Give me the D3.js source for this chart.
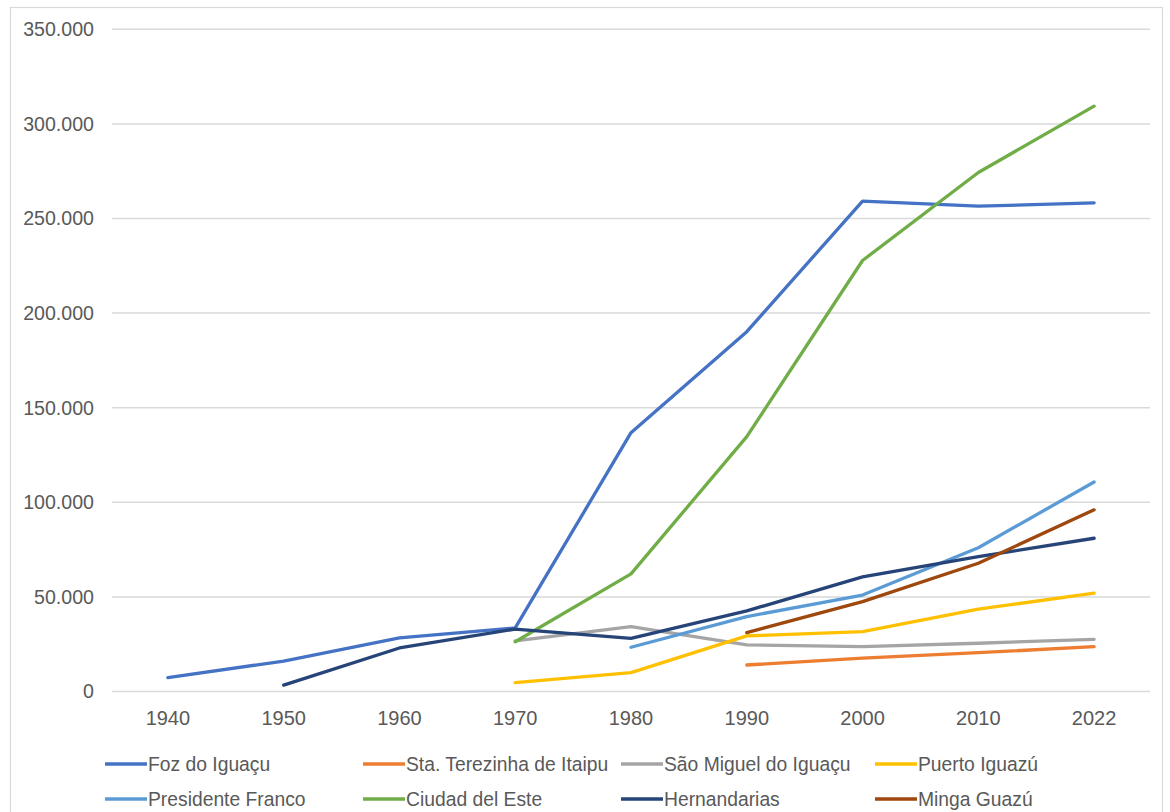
<!DOCTYPE html>
<html>
<head>
<meta charset="utf-8">
<script src="https://cdn.jsdelivr.net/npm/d3@7"></script>
<style>
  html, body { margin: 0; padding: 0; background: #fff; }
  svg { display: block; font-family: "Liberation Sans", Arial, sans-serif; }
</style>
</head>
<body>
<svg id="chart" width="1170" height="812"></svg>
<script>
// Census years on the category axis
const years = ["1940", "1950", "1960", "1970", "1980", "1990", "2000", "2010", "2022"];

// Population per city (null = no data for that year)
const fozDoIguacu       = [7300, 16100, 28300, 33600, 136800, 190200, 259200, 256500, 258300];
const staTerezinha      = [null, null, null, null, null, 14000, 17600, 20500, 23700];
const saoMiguel         = [null, null, null, 26700, 34300, 24600, 23700, 25500, 27600];
const puertoIguazu      = [null, null, null, 4700, 10000, 29400, 31600, 43500, 52000];
const presidenteFranco  = [null, null, null, null, 23400, 39600, 51000, 76000, 110700];
const ciudadDelEste     = [null, null, null, 26300, 62200, 134700, 227800, 274300, 309400];
const hernandarias      = [null, 3400, 23000, 33000, 28100, 42600, 60600, 71300, 81000];
const mingaGuazu        = [null, null, null, null, null, 31100, 47500, 67800, 96000];

const seriesNames  = ["Foz do Iguaçu", "Sta. Terezinha de Itaipu", "São Miguel do Iguaçu", "Puerto Iguazú",
                      "Presidente Franco", "Ciudad del Este", "Hernandarias", "Minga Guazú"];
const seriesValues = [fozDoIguacu, staTerezinha, saoMiguel, puertoIguazu,
                      presidenteFranco, ciudadDelEste, hernandarias, mingaGuazu];
const seriesColors = ["#4472C4", "#ED7D31", "#A5A5A5", "#FFC000",
                      "#5B9BD5", "#70AD47", "#264478", "#9E480E"];

const yTicks = [0, 50000, 100000, 150000, 200000, 250000, 300000, 350000];

const svg = d3.select("#chart");

// outer chart frame
svg.append("rect")
  .attr("x", 10.5).attr("y", 7.5)
  .attr("width", 1152).attr("height", 830)
  .attr("fill", "#fff")
  .attr("stroke", "#d9d9d9").attr("stroke-width", 1.2);

const x = d3.scalePoint().domain(years).range([110, 1152]).padding(0.5);
const y = d3.scaleLinear().domain([0, 350000]).range([691.5, 29.3]);

const fmt = d3.formatLocale({ decimal: ",", thousands: ".", grouping: [3], currency: ["", ""] }).format(",");

// horizontal gridlines
svg.append("g").selectAll("line").data(yTicks).join("line")
  .attr("x1", 112).attr("x2", 1150)
  .attr("y1", d => y(d)).attr("y2", d => y(d))
  .attr("stroke", "#d9d9d9").attr("stroke-width", 1.5);

// value axis labels
svg.append("g").selectAll("text").data(yTicks).join("text")
  .attr("x", 94).attr("y", d => y(d))
  .attr("dy", "0.35em")
  .attr("text-anchor", "end")
  .attr("fill", "#595959")
  .style("font-size", "19.6px")
  .text(d => fmt(d));

// category axis labels
svg.append("g").selectAll("text").data(years).join("text")
  .attr("x", d => x(d)).attr("y", 725)
  .attr("text-anchor", "middle")
  .attr("fill", "#595959")
  .style("font-size", "20px")
  .text(d => d);

// series lines
const line = d3.line()
  .defined(d => d.v != null)
  .x(d => x(d.year))
  .y(d => y(d.v));

seriesValues.forEach((vals, i) => {
  const pts = years.map((yr, j) => ({ year: yr, v: vals[j] }));
  svg.append("path")
    .datum(pts)
    .attr("d", line)
    .attr("fill", "none")
    .attr("stroke", seriesColors[i])
    .attr("stroke-width", 3.3)
    .attr("stroke-linejoin", "round")
    .attr("stroke-linecap", "round");
});

// legend: 4 columns x 2 rows
const legendCols = [105, 363, 621, 875];
const legendRows = [764, 799];
const lg = svg.append("g").selectAll("g").data(seriesNames).join("g")
  .attr("transform", (d, i) => `translate(${legendCols[i % 4]},${legendRows[Math.floor(i / 4)]})`);
lg.append("line")
  .attr("x1", 0).attr("x2", 42).attr("y1", 0).attr("y2", 0)
  .attr("stroke", (d, i) => seriesColors[i])
  .attr("stroke-width", 3.3);
lg.append("text")
  .attr("x", 43).attr("y", 0).attr("dy", "0.35em")
  .attr("fill", "#595959")
  .style("font-size", "19.3px")
  .text(d => d);
</script>
</body>
</html>
